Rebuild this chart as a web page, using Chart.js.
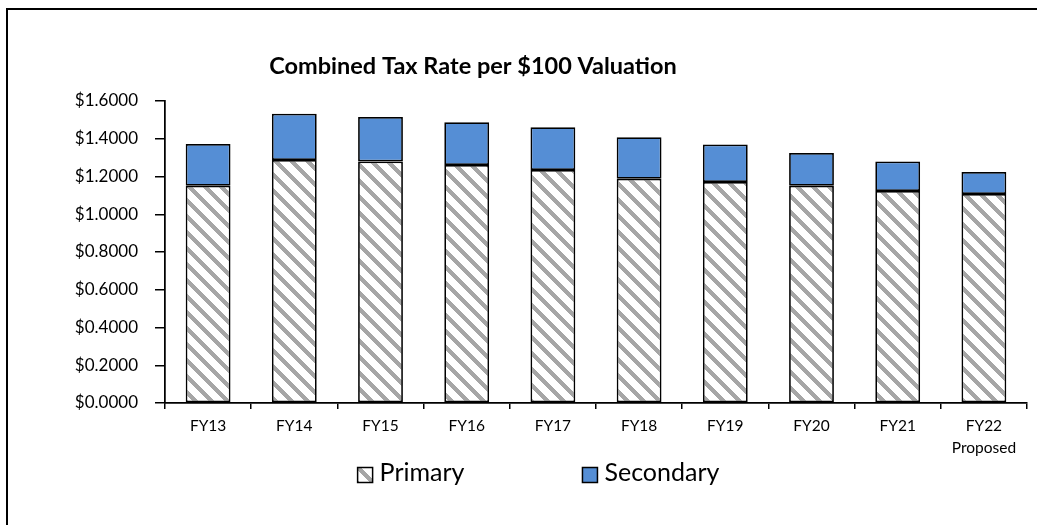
<!DOCTYPE html>
<html lang="en">
<head>
  <meta charset="UTF-8">
  <title>Combined Tax Rate per $100 Valuation</title>
  <script src="https://cdn.jsdelivr.net/npm/chart.js"></script>
  <style>
    html, body { margin: 0; padding: 0; background: #fff; overflow: hidden; }
    #wrap { position: relative; width: 1037px; height: 525px; }
  </style>
</head>
<body>
  <div id="wrap">
    <canvas id="taxChart"></canvas>
  </div>

  <script>
    // values
    const categories = ['FY13', 'FY14', 'FY15', 'FY16', 'FY17', 'FY18', 'FY19', 'FY20', 'FY21', ['FY22', 'Proposed']];
    const primary   = [1.151, 1.287, 1.280, 1.261, 1.234, 1.188, 1.171, 1.151, 1.123, 1.107];
    const secondary = [0.221, 0.246, 0.235, 0.226, 0.227, 0.220, 0.199, 0.174, 0.156, 0.117];
    const yTicks = [0, 0.2, 0.4, 0.6, 0.8, 1.0, 1.2, 1.4, 1.6];
    const chartTitle = 'Combined Tax Rate per $100 Valuation';

    const FONT = 'Lato, "Open Sans", sans-serif';

    // grey "wide downward diagonal" hatch
    function makeHatch() {
      const size = 16;
      const c = document.createElement('canvas');
      c.width = size; c.height = size;
      const g = c.getContext('2d');
      const img = g.createImageData(size, size);
      for (let y = 0; y < size; y++) {
        for (let x = 0; x < size; x++) {
          const on = ((x - y) % size + size) % size < 6;
          const i = (y * size + x) * 4;
          const v = on ? 166 : 255;
          img.data[i] = v; img.data[i + 1] = v; img.data[i + 2] = v; img.data[i + 3] = 255;
        }
      }
      g.putImageData(img, 0, 0);
      return g.createPattern(c, 'repeat');
    }

    // outer frame (only left and top edges are inside the window) + title
    const frame = {
      id: 'frame',
      beforeDraw(chart) {
        const ctx = chart.ctx;
        ctx.save();
        ctx.strokeStyle = '#000';
        ctx.lineWidth = 2;
        ctx.beginPath();
        ctx.moveTo(7, 600);
        ctx.lineTo(7, 9);
        ctx.lineTo(1100, 9);
        ctx.stroke();
        // title sits a bit left of centre, as in the original
        ctx.fillStyle = '#000';
        ctx.font = 'bold 23.5px ' + FONT;
        ctx.textAlign = 'center';
        ctx.textBaseline = 'middle';
        ctx.fillText(chartTitle, 473, 66);
        ctx.restore();
      }
    };

    // legend drawn by hand so the items can sit far apart without eating height
    const bottomLegend = {
      id: 'bottomLegend',
      afterDraw(chart) {
        const ctx = chart.ctx;
        const box = 15, gap = 7, spacing = 118;
        const y = 474;
        ctx.save();
        ctx.font = '25px ' + FONT;
        ctx.textBaseline = 'middle';
        const items = chart.data.datasets.map(ds => ({
          label: ds.label, fill: ds.backgroundColor, w: ctx.measureText(ds.label).width
        }));
        const total = items.reduce((s, it) => s + box + gap + it.w, 0) + spacing * (items.length - 1);
        let x = 538.5 - total / 2;
        items.forEach(it => {
          ctx.fillStyle = it.fill;
          ctx.fillRect(x, y - box / 2 + 1, box, box);
          ctx.strokeStyle = '#000';
          ctx.lineWidth = 1.5;
          ctx.strokeRect(x, y - box / 2 + 1, box, box);
          ctx.fillStyle = '#000';
          ctx.fillText(it.label, x + box + gap, y - 1);
          x += box + gap + it.w + spacing;
        });
        ctx.restore();
      }
    };

    const ctx = document.getElementById('taxChart').getContext('2d');
    new Chart(ctx, {
      type: 'bar',
      data: {
        labels: categories,
        datasets: [{
          label: 'Primary',
          data: primary,
          backgroundColor: makeHatch(),
          borderColor: '#000',
          borderWidth: 1.75,
          borderSkipped: false
        }, {
          label: 'Secondary',
          data: secondary,
          backgroundColor: '#558ed5',
          borderColor: '#000',
          borderWidth: 1.75,
          borderSkipped: false
        }]
      },
      options: {
        responsive: true,
        maintainAspectRatio: false,
        animation: false,
        layout: { padding: { top: 101, right: 10, bottom: 62, left: 0 } },
        datasets: { bar: { barPercentage: 0.52, categoryPercentage: 1 } },
        plugins: {
          title: { display: false },
          legend: { display: false },
          tooltip: { enabled: false }
        },
        scales: {
          x: {
            stacked: true,
            grid: { offset: true, drawOnChartArea: false, color: '#000', tickLength: 6, lineWidth: 1.5 },
            border: { color: '#000', width: 1.75 },
            ticks: { color: '#000', font: { family: FONT, size: 15.5, lineHeight: 1.4 }, maxRotation: 0, padding: 6 },
            afterFit(scale) { scale.height = 60; }
          },
          y: {
            stacked: true,
            min: 0,
            max: 1.6,
            afterBuildTicks(scale) { scale.ticks = yTicks.map(v => ({ value: v })); },
            grid: { drawOnChartArea: false, color: '#000', tickLength: 10, lineWidth: 1.5 },
            border: { color: '#000', width: 1.75 },
            ticks: {
              color: '#000',
              font: { family: FONT, size: 17 },
              padding: 17,
              callback: v => '$' + Number(v).toFixed(4)
            },
            afterFit(scale) { scale.width = 165; }
          }
        }
      },
      plugins: [frame, bottomLegend]
    });
  </script>
</body>
</html>
